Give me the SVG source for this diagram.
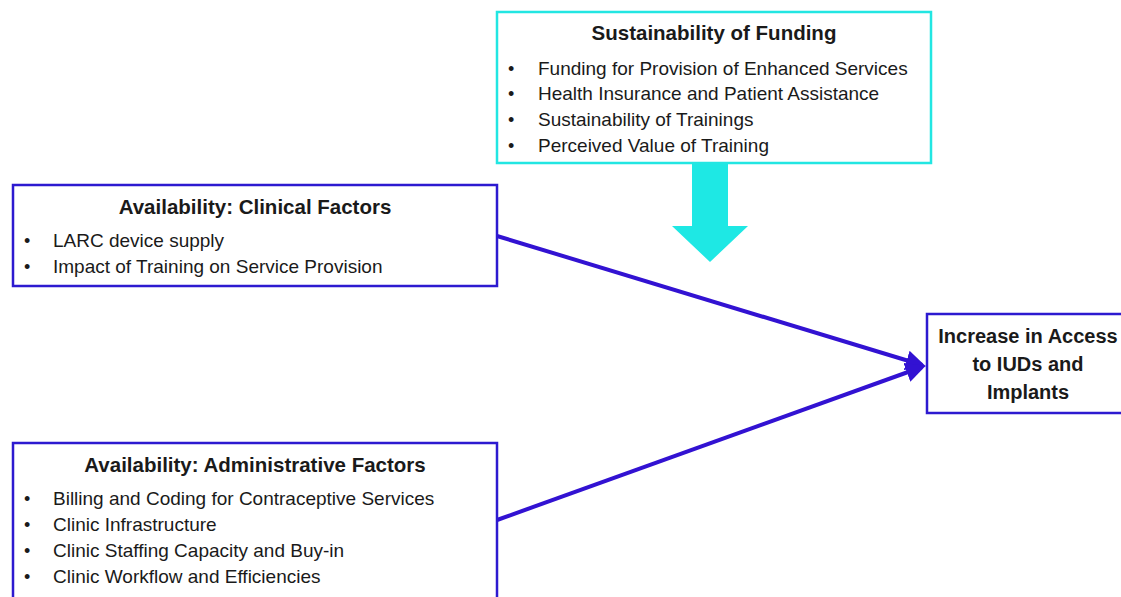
<svg xmlns="http://www.w3.org/2000/svg" width="1121" height="597" viewBox="0 0 1121 597">
  <style>
    .box { fill: #ffffff; stroke: #2d1ad0; stroke-width: 2.5; }
    .fund { fill: #ffffff; stroke: #22e6e2; stroke-width: 2.5; }
    text { font-family: "Liberation Sans", Arial, sans-serif; fill: #1a1a1a; }
    .title { font-size: 20.5px; font-weight: bold; text-anchor: middle; }
    .out { font-size: 20px; font-weight: bold; text-anchor: middle; }
    .item { font-size: 19px; }
    .bullet { font-size: 18px; }
    .link { stroke: #3212d2; stroke-width: 4; fill: none; }
  </style>
  <defs>
    <marker id="head" markerWidth="5" markerHeight="5" refX="4" refY="2.5" orient="auto" markerUnits="strokeWidth">
      <path d="M0,0 L5,2.5 L0,5 Z" fill="#3212d2"/>
    </marker>
  </defs>
  <rect width="1121" height="597" fill="#ffffff"/>

  <g id="connectors">
    <line class="link" x1="497" y1="236" x2="922" y2="365" marker-end="url(#head)"/>
    <line class="link" x1="497" y1="520" x2="922" y2="367" marker-end="url(#head)"/>
    <path d="M692,163 H728 V226 H748 L710,262 L672,226 H692 Z" fill="#1ee8e4"/>
  </g>

  <g id="funding">
    <rect class="fund" x="497" y="12" width="434" height="151"/>
    <text class="title" x="714" y="40">Sustainability of Funding</text>
    <text class="bullet" x="508" y="75">•</text>
    <text class="item" x="538" y="75">Funding for Provision of Enhanced Services</text>
    <text class="bullet" x="508" y="100">•</text>
    <text class="item" x="538" y="100">Health Insurance and Patient Assistance</text>
    <text class="bullet" x="508" y="126">•</text>
    <text class="item" x="538" y="126">Sustainability of Trainings</text>
    <text class="bullet" x="508" y="152">•</text>
    <text class="item" x="538" y="152">Perceived Value of Training</text>
  </g>

  <g id="clinical">
    <rect class="box" x="13" y="185" width="484" height="101"/>
    <text class="title" x="255" y="214">Availability: Clinical Factors</text>
    <text class="bullet" x="24" y="247">•</text>
    <text class="item" x="53" y="247">LARC device supply</text>
    <text class="bullet" x="24" y="273">•</text>
    <text class="item" x="53" y="273">Impact of Training on Service Provision</text>
  </g>

  <g id="administrative">
    <rect class="box" x="13" y="443" width="484" height="170"/>
    <text class="title" x="255" y="472">Availability: Administrative Factors</text>
    <text class="bullet" x="24" y="505">•</text>
    <text class="item" x="53" y="505">Billing and Coding for Contraceptive Services</text>
    <text class="bullet" x="24" y="531">•</text>
    <text class="item" x="53" y="531">Clinic Infrastructure</text>
    <text class="bullet" x="24" y="557">•</text>
    <text class="item" x="53" y="557">Clinic Staffing Capacity and Buy-in</text>
    <text class="bullet" x="24" y="583">•</text>
    <text class="item" x="53" y="583">Clinic Workflow and Efficiencies</text>
  </g>

  <g id="outcome">
    <rect class="box" x="927" y="314" width="200" height="99"/>
    <text class="out" x="1028" y="343">Increase in Access</text>
    <text class="out" x="1028" y="371">to IUDs and</text>
    <text class="out" x="1028" y="399">Implants</text>
  </g>
</svg>
